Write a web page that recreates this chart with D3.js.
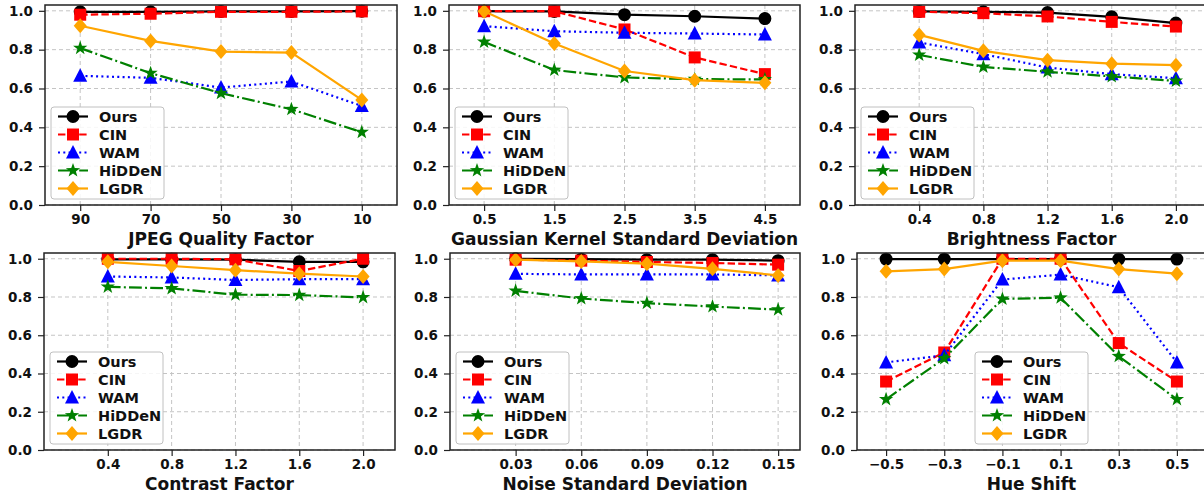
<!DOCTYPE html>
<html>
<head>
<meta charset="utf-8">
<script src="https://cdn.jsdelivr.net/npm/d3@7"></script>
<style>
  body { margin: 0; background: #fff; }
  svg { display: block; font-family: "DejaVu Sans", sans-serif; font-weight: bold; }
</style>
</head>
<body>
<div class="svg-container"></div>
<script>
"use strict";

var methods = ["Ours", "CIN", "WAM", "HiDDeN", "LGDR"];

// JPEG
var jpegX = ["90", "70", "50", "30", "10"];
var jpegOurs = [0.995, 0.995, 0.997, 0.997, 0.998];
var jpegCIN = [0.98, 0.985, 0.995, 0.995, 0.997];
var jpegWAM = [0.665, 0.655, 0.605, 0.636, 0.51];
var jpegHiDDeN = [0.808, 0.679, 0.576, 0.493, 0.375];
var jpegLGDR = [0.923, 0.845, 0.79, 0.785, 0.541];

// Gaussian blur
var gaussX = ["0.5", "1.5", "2.5", "3.5", "4.5"];
var gaussOurs = [0.998, 0.997, 0.98, 0.972, 0.96];
var gaussCIN = [0.998, 0.998, 0.904, 0.76, 0.674];
var gaussWAM = [0.921, 0.895, 0.887, 0.883, 0.878];
var gaussHiDDeN = [0.84, 0.695, 0.657, 0.648, 0.647];
var gaussLGDR = [0.998, 0.832, 0.69, 0.643, 0.629];

// Brightness
var brightX = [0.4, 0.8, 1.2, 1.6, 2.0];
var brightOurs = [0.997, 0.995, 0.991, 0.969, 0.937];
var brightCIN = [0.995, 0.988, 0.971, 0.943, 0.919];
var brightWAM = [0.837, 0.777, 0.708, 0.674, 0.653];
var brightHiDDeN = [0.773, 0.711, 0.686, 0.662, 0.639];
var brightLGDR = [0.876, 0.794, 0.746, 0.728, 0.72];

// Contrast
var contrastX = [0.4, 0.8, 1.2, 1.6, 2.0];
var contrastOurs = [0.997, 0.997, 0.995, 0.984, 0.984];
var contrastCIN = [1.0, 1.0, 0.997, 0.936, 1.0];
var contrastWAM = [0.907, 0.902, 0.889, 0.893, 0.893];
var contrastHiDDeN = [0.853, 0.845, 0.812, 0.81, 0.798];
var contrastLGDR = [0.984, 0.962, 0.94, 0.922, 0.907];

// Noise
var noiseX = [0.03, 0.06, 0.09, 0.12, 0.15];
var noiseOurs = [1.0, 0.998, 0.995, 0.995, 0.99];
var noiseCIN = [0.995, 0.99, 0.983, 0.978, 0.969];
var noiseWAM = [0.921, 0.918, 0.918, 0.918, 0.913];
var noiseHiDDeN = [0.832, 0.792, 0.768, 0.75, 0.734];
var noiseLGDR = [0.995, 0.986, 0.974, 0.947, 0.913];

// Hue
var hueX = [-0.5, -0.3, -0.1, 0.1, 0.3, 0.5];
var hueOurs = [0.998, 0.998, 0.998, 0.998, 0.998, 0.998];
var hueCIN = [0.358, 0.51, 1.0, 1.0, 0.559, 0.358];
var hueWAM = [0.458, 0.495, 0.891, 0.917, 0.851, 0.458];
var hueHiDDeN = [0.265, 0.479, 0.79, 0.796, 0.49, 0.265];
var hueLGDR = [0.934, 0.946, 0.99, 0.99, 0.946, 0.922];

var yTicks = [0, 0.2, 0.4, 0.6, 0.8, 1.0];

var styles = {
  Ours:   {color: "#000000", dash: null,             shape: "circle"},
  CIN:    {color: "#ff0000", dash: "7.4,3.2",        shape: "square"},
  WAM:    {color: "#0000ff", dash: "2,3.3",          shape: "triangle"},
  HiDDeN: {color: "#008000", dash: "12.8,3.2,2,3.2", shape: "star"},
  LGDR:   {color: "#ffa500", dash: null,             shape: "diamond"}
};

function markerPath(shape) {
  if (shape === "circle") return d3.symbol(d3.symbolCircle, Math.PI * 42)();
  if (shape === "square") return "M-6,-6H6V6H-6Z";
  if (shape === "triangle") return "M0,-7.5L7,6L-7,6Z";
  if (shape === "diamond") return "M0,-7.5L6.5,0L0,7.5L-6.5,0Z";
  // star
  var p = [];
  for (var i = 0; i < 10; i++) {
    var r = i % 2 === 0 ? 7.5 : 3;
    var a = -Math.PI / 2 + i * Math.PI / 5;
    p.push([r * Math.cos(a), r * Math.sin(a)]);
  }
  return "M" + p.join("L") + "Z";
}

var panels = [
  {x: jpegX, cat: true, series: [jpegOurs, jpegCIN, jpegWAM, jpegHiDDeN, jpegLGDR],
   left: 45, right: 397, top: 5, bottom: 205, label: "JPEG Quality Factor", legend: "left"},
  {x: gaussX, cat: true, series: [gaussOurs, gaussCIN, gaussWAM, gaussHiDDeN, gaussLGDR],
   left: 449, right: 800, top: 5, bottom: 205, label: "Gaussian Kernel Standard Deviation", legend: "left"},
  {x: brightX, domain: [0, 2.2], fmt: ".1f", series: [brightOurs, brightCIN, brightWAM, brightHiDDeN, brightLGDR],
   left: 855, right: 1208, top: 5, bottom: 205, label: "Brightness Factor", legend: "left"},
  {x: contrastX, domain: [0, 2.2], fmt: ".1f", series: [contrastOurs, contrastCIN, contrastWAM, contrastHiDDeN, contrastLGDR],
   left: 44, right: 395, top: 253, bottom: 450, label: "Contrast Factor", legend: "left"},
  {x: noiseX, domain: [0, 0.16], fmt: ".2f", series: [noiseOurs, noiseCIN, noiseWAM, noiseHiDDeN, noiseLGDR],
   left: 450, right: 800, top: 253, bottom: 450, label: "Noise Standard Deviation", legend: "left"},
  {x: hueX, domain: [-0.6, 0.6], fmt: ".1f", series: [hueOurs, hueCIN, hueWAM, hueHiDDeN, hueLGDR],
   left: 857, right: 1206, top: 253, bottom: 450, label: "Hue Shift", legend: "center"}
];

var svg = d3.select(".svg-container").append("svg")
    .attr("width", 1204).attr("height", 498);

panels.forEach(function(p) {
  var x;
  if (p.cat) {
    x = d3.scalePoint().domain(p.x).range([p.left, p.right]).padding(0.5);
  } else {
    x = d3.scaleLinear().domain(p.domain).range([p.left, p.right]);
  }
  var y = d3.scaleLinear().domain([0, 1.03]).range([p.bottom, p.top]);
  var g = svg.append("g");

  // grid
  var grid = g.append("g").attr("stroke", "#c4c4c4").attr("stroke-width", 1)
      .attr("stroke-dasharray", "4,3");
  yTicks.forEach(function(t) {
    grid.append("line").attr("x1", p.left).attr("x2", p.right)
      .attr("y1", y(t)).attr("y2", y(t));
  });
  p.x.forEach(function(t) {
    grid.append("line").attr("x1", x(t)).attr("x2", x(t))
      .attr("y1", p.top).attr("y2", p.bottom);
  });

  // axes
  var xAxis = d3.axisBottom(x).tickSize(6).tickPadding(3);
  if (!p.cat) xAxis.tickValues(p.x).tickFormat(d3.format(p.fmt));
  var gx = g.append("g").attr("transform", "translate(0," + p.bottom + ")").call(xAxis);
  var gy = g.append("g").attr("transform", "translate(" + p.left + ",0)")
      .call(d3.axisLeft(y).tickValues(yTicks).tickFormat(d3.format(".1f")).tickSize(6).tickPadding(6));
  [gx, gy].forEach(function(a) {
    a.select(".domain").remove();
    a.selectAll(".tick line").attr("stroke", "#222").attr("stroke-width", 1.2);
    a.selectAll("text").attr("font-size", 13.5).attr("font-weight", "bold")
      .attr("font-family", "DejaVu Sans").attr("fill", "#111");
  });

  g.append("text")
    .attr("x", (p.left + p.right) / 2)
    .attr("y", p.bottom + 40)
    .attr("text-anchor", "middle")
    .attr("font-size", 17)
    .attr("fill", "#111")
    .text(p.label);

  // series
  p.series.forEach(function(vals, i) {
    var st = styles[methods[i]];
    var pts = vals.map(function(v, j) { return [x(p.x[j]), y(v)]; });
    g.append("path")
      .attr("d", d3.line()(pts))
      .attr("fill", "none")
      .attr("stroke", st.color)
      .attr("stroke-width", 2.2)
      .attr("stroke-dasharray", st.dash);
    g.selectAll(null).data(pts).enter().append("path")
      .attr("d", markerPath(st.shape))
      .attr("transform", function(d) { return "translate(" + d[0] + "," + d[1] + ")"; })
      .attr("fill", st.color);
  });

  // frame
  g.append("rect")
    .attr("x", p.left).attr("y", p.top)
    .attr("width", p.right - p.left).attr("height", p.bottom - p.top)
    .attr("fill", "none").attr("stroke", "#222").attr("stroke-width", 1.5);

  // legend
  var lw = 113, lh = 92;
  var lx = p.legend === "center" ? (p.left + p.right) / 2 - lw / 2 : p.left + 6;
  var ly = p.bottom - 6 - lh;
  var leg = g.append("g").attr("transform", "translate(" + lx + "," + ly + ")");
  leg.append("rect").attr("width", lw).attr("height", lh).attr("rx", 3)
    .attr("fill", "#fff").attr("fill-opacity", 0.85)
    .attr("stroke", "#c0c0c0").attr("stroke-width", 1);
  methods.forEach(function(m, i) {
    var st = styles[m];
    var cy = 9.5 + i * 18;
    leg.append("line").attr("x1", 7).attr("x2", 37).attr("y1", cy).attr("y2", cy)
      .attr("stroke", st.color).attr("stroke-width", 2.2)
      .attr("stroke-dasharray", st.dash);
    leg.append("path").attr("d", markerPath(st.shape))
      .attr("transform", "translate(22," + cy + ")").attr("fill", st.color);
    leg.append("text").attr("x", 48).attr("y", cy).attr("dy", "0.36em")
      .attr("font-size", 14.5).attr("fill", "#111").text(m);
  });
});
</script>
</body>
</html>
